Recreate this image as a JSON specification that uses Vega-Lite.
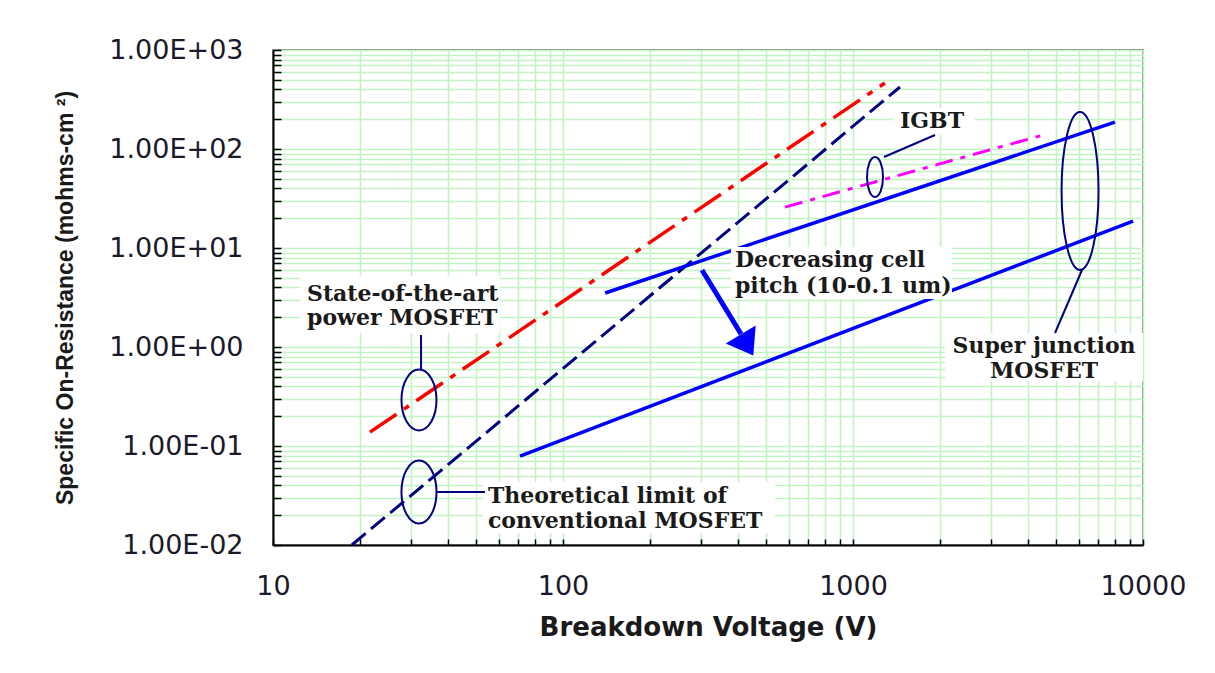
{
  "$schema": "https://vega.github.io/schema/vega-lite/v6.json",
  "width": 870,
  "height": 495,
  "autosize": {"type": "none"},
  "padding": {"left": 273, "top": 50, "right": 72, "bottom": 128},
  "background": "white",
  "config": {"view": {"stroke": "#8c8c8c", "strokeWidth": 2}},
  "encoding": {
    "x": {
      "field": "V", "type": "quantitative",
      "scale": {"type": "log", "domain": [10, 10000]},
      "axis": {
        "title": "Breakdown Voltage (V)",
        "values": [10,20,30,40,50,60,70,80,90,100,200,300,400,500,600,700,800,900,1000,2000,3000,4000,5000,6000,7000,8000,9000,10000],
        "labelExpr": "abs(log(datum.value)/LN10 - round(log(datum.value)/LN10)) < 0.001 ? '' + round(datum.value) : ''",
        "labelOverlap": false, "labelFlush": false,
        "grid": true, "gridColor": "#c2f4c2", "gridWidth": 1.6,
        "domainColor": "black", "domainWidth": 2,
        "tickColor": "black", "tickWidth": 1.5, "tickSize": -6,
        "labelPadding": 34,
        "labelFont": "DejaVu Sans", "labelFontSize": 27, "labelColor": "#1a1a2a",
        "titleFont": "DejaVu Sans", "titleFontSize": 26, "titleFontWeight": "bold", "titleColor": "#1a1a1a",
        "titlePadding": 15
      }
    },
    "y": {
      "field": "R", "type": "quantitative",
      "scale": {"type": "log", "domain": [0.01, 1000]},
      "axis": {
        "title": "Specific On-Resistance (mohms-cm ²)",
        "values": [0.01,0.02,0.03,0.04,0.05,0.06,0.07,0.08,0.09,0.1,0.2,0.3,0.4,0.5,0.6,0.7,0.8,0.9,1,2,3,4,5,6,7,8,9,10,20,30,40,50,60,70,80,90,100,200,300,400,500,600,700,800,900,1000],
        "labelExpr": "abs(log(datum.value)/LN10 - round(log(datum.value)/LN10)) < 0.001 ? '1.00E' + (datum.value >= 0.999 ? '+' : '-') + '0' + abs(round(log(datum.value)/LN10)) : ''",
        "labelOverlap": false, "labelFlush": false,
        "grid": true, "gridColor": "#c2f4c2", "gridWidth": 1.6,
        "domainColor": "black", "domainWidth": 2,
        "tickColor": "black", "tickWidth": 1.5, "tickSize": -8,
        "labelPadding": 38,
        "labelFont": "DejaVu Sans", "labelFontSize": 27, "labelColor": "#1a1a2a",
        "titleFont": "Liberation Sans", "titleFontSize": 23, "titleFontWeight": "bold", "titleColor": "#1a1a1a",
        "titlePadding": 31
      }
    }
  },
  "layer": [
    {
      "data": {"values": [{"V": 21.6, "R": 0.138}, {"V": 1288, "R": 464}]},
      "mark": {"type": "line", "color": "#ff0000", "strokeWidth": 3.5, "strokeDash": [32, 9, 6, 9]}
    },
    {
      "data": {"values": [{"V": 18.7, "R": 0.01}, {"V": 1452, "R": 423}]},
      "mark": {"type": "line", "color": "#000080", "strokeWidth": 3, "strokeDash": [18, 7]}
    },
    {
      "data": {"values": [
        {"line": "upper", "V": 139.8, "R": 3.51}, {"line": "upper", "V": 8000, "R": 187},
        {"line": "lower", "V": 71.1, "R": 0.079}, {"line": "lower", "V": 9240, "R": 18.7}
      ]},
      "mark": {"type": "line", "color": "#0000ff", "strokeWidth": 3.5},
      "encoding": {"detail": {"field": "line"}}
    },
    {
      "data": {"values": [{"V": 583, "R": 25.9}, {"V": 4670, "R": 142}]},
      "mark": {"type": "line", "color": "#ff00ff", "strokeWidth": 3, "strokeDash": [18, 8, 5, 8]}
    },
    {
      "data": {"values": [
        {"V": 12.39, "V2": 60.65, "R": 5.214, "R2": 1.385},
        {"V": 379.5, "V2": 2195, "R": 10.23, "R2": 3.05},
        {"V": 1374, "V2": 2634, "R": 259.5, "R2": 141.8},
        {"V": 2076, "V2": 10000, "R": 1.385, "R2": 0.45},
        {"V": 52.99, "V2": 538.3, "R": 0.04329, "R2": 0.01322}
      ]},
      "mark": {"type": "rect", "color": "white"},
      "encoding": {"x2": {"field": "V2"}, "y2": {"field": "R2"}}
    },
    {
      "data": {"values": [{"V": 301.5, "R": 5.995}, {"V": 411, "R": 1.353}]},
      "mark": {"type": "line", "color": "#0000ff", "strokeWidth": 5}
    },
    {
      "data": {"values": [{"V": 431, "R": 1.048}]},
      "mark": {"type": "point", "shape": "M-1,-0.7L1,-0.7L0,0.7Z", "size": 1225, "filled": true, "color": "#0000ff", "opacity": 1, "angle": 329}
    },
    {
      "data": {"values": [
        {"id": "a", "V": 32.4, "R": 1.322}, {"id": "a", "V": 32.4, "R": 0.5995},
        {"id": "b", "V": 36.8, "R": 0.0343}, {"id": "b", "V": 53.8, "R": 0.0343},
        {"id": "c", "V": 1279, "R": 83.0}, {"id": "c", "V": 1918, "R": 138.5},
        {"id": "d", "V": 6162, "R": 5.995}, {"id": "d", "V": 4973, "R": 1.385}
      ]},
      "mark": {"type": "line", "color": "#000080", "strokeWidth": 2},
      "encoding": {"detail": {"field": "id"}}
    },
    {
      "data": {"values": [{"V": 31.87, "R": 0.2914}]},
      "mark": {"type": "point", "shape": "M0,-1A0.574,1 0 1,1 0,1A0.574,1 0 1,1 0,-1Z", "size": 3721, "filled": false, "stroke": "#000080", "strokeWidth": 2, "opacity": 1}
    },
    {
      "data": {"values": [{"V": 31.87, "R": 0.0343}]},
      "mark": {"type": "point", "shape": "M0,-1A0.556,1 0 1,1 0,1A0.556,1 0 1,1 0,-1Z", "size": 3969, "filled": false, "stroke": "#000080", "strokeWidth": 2, "opacity": 1}
    },
    {
      "data": {"values": [{"V": 1191, "R": 52.1}]},
      "mark": {"type": "point", "shape": "M0,-1A0.4,1 0 1,1 0,1A0.4,1 0 1,1 0,-1Z", "size": 1600, "filled": false, "stroke": "#000080", "strokeWidth": 2, "opacity": 1}
    },
    {
      "data": {"values": [{"V": 6066, "R": 37.65}]},
      "mark": {"type": "point", "shape": "M0,-1A0.234,1 0 1,1 0,1A0.234,1 0 1,1 0,-1Z", "size": 24964, "filled": false, "stroke": "#000080", "strokeWidth": 2, "opacity": 1}
    },
    {
      "data": {"values": [
        {"label": "State-of-the-art", "V": 13.1, "R": 2.915},
        {"label": "power MOSFET", "V": 13.1, "R": 1.668},
        {"label": "Decreasing cell", "V": 391.8, "R": 6.43},
        {"label": "pitch (10-0.1 um)", "V": 391.8, "R": 3.513},
        {"label": "IGBT", "V": 1452, "R": 163.0},
        {"label": "Theoretical limit of", "V": 55.1, "R": 0.02656},
        {"label": "conventional MOSFET", "V": 55.1, "R": 0.01485}
      ]},
      "mark": {"type": "text", "align": "left", "baseline": "alphabetic", "font": "DejaVu Serif", "fontSize": 22, "fontWeight": "bold", "color": "#1a1a1a"},
      "encoding": {"text": {"field": "label"}}
    },
    {
      "data": {"values": [
        {"label": "Super junction", "V": 4557, "R": 0.8697},
        {"label": "MOSFET", "V": 4557, "R": 0.4863}
      ]},
      "mark": {"type": "text", "align": "center", "baseline": "alphabetic", "font": "DejaVu Serif", "fontSize": 22, "fontWeight": "bold", "color": "#1a1a1a"},
      "encoding": {"text": {"field": "label"}}
    }
  ]
}
